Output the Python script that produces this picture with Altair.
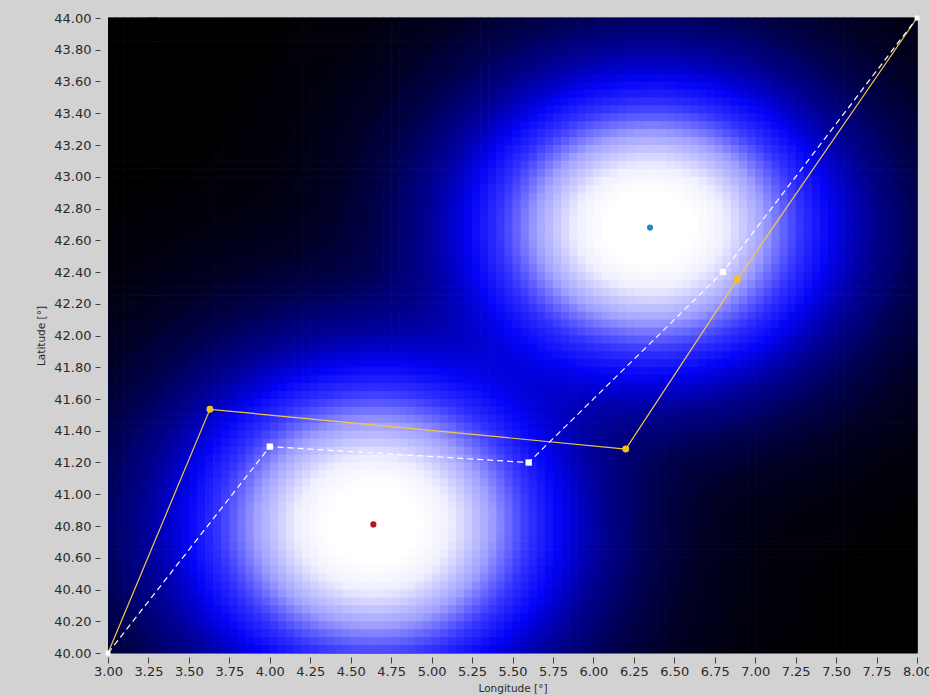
import numpy as np
import pandas as pd
import altair as alt

# --- signal sources (centre lon, centre lat, spread lon, spread lat) ---
src_lon = [4.64, 6.35]
src_lat = [40.81, 42.68]
src_sig_lon = [0.62, 0.60]
src_sig_lat = [0.54, 0.50]
src_color = ["#c0101a", "#2a86c0"]

# --- planned route (solid, gold) ---
route_lon = [3.00, 3.63, 6.20, 6.89, 8.00]
route_lat = [40.00, 41.535, 41.285, 42.355, 44.00]

# --- estimated route (dashed, white) ---
est_lon = [3.00, 4.00, 5.60, 6.80, 8.00]
est_lat = [40.00, 41.30, 41.20, 42.40, 44.00]

# axis ticks
lon_ticks = [3.00, 3.25, 3.50, 3.75, 4.00, 4.25, 4.50, 4.75, 5.00, 5.25, 5.50,
             5.75, 6.00, 6.25, 6.50, 6.75, 7.00, 7.25, 7.50, 7.75, 8.00]
lat_ticks = [40.0, 40.2, 40.4, 40.6, 40.8, 41.0, 41.2, 41.4, 41.6, 41.8, 42.0,
             42.2, 42.4, 42.6, 42.8, 43.0, 43.2, 43.4, 43.6, 43.8, 44.0]

# intensity field on a regular lon/lat grid
step = 0.05
lons = np.arange(3.0, 8.0, step)
lats = np.arange(40.0, 44.0, step)
LO, LA = np.meshgrid(lons + step / 2, lats + step / 2)
field = np.zeros_like(LO)
for cx, cy, sx, sy in zip(src_lon, src_lat, src_sig_lon, src_sig_lat):
    field += np.exp(-((LO - cx) ** 2) / (2 * sx ** 2) - ((LA - cy) ** 2) / (2 * sy ** 2))

grid = pd.DataFrame({
    "lon0": (LO - step / 2).ravel().round(3),
    "lat0": (LA - step / 2).ravel().round(3),
    "val": field.ravel().round(5),
})

xs = alt.Scale(domain=[3, 8], nice=False, zero=False)
ys = alt.Scale(domain=[40, 44], nice=False, zero=False)

x_axis = alt.Axis(values=lon_ticks, format=".2f", title="Longitude [°]", offset=4,
                  tickSize=6, labelPadding=2, titlePadding=5,
                  labelFlush=False, labelOverlap=False)
y_axis = alt.Axis(values=lat_ticks, format=".2f", title="Latitude [°]", offset=8,
                  tickSize=5, labelPadding=4, titlePadding=7,
                  labelFlush=False, labelOverlap=False)

heat = alt.Chart(grid).transform_calculate(
    lon1="datum.lon0 + 0.054", lat1="datum.lat0 + 0.054"
).mark_rect(strokeWidth=0).encode(
    x=alt.X("lon0:Q", scale=xs, axis=x_axis),
    x2="lon1:Q",
    y=alt.Y("lat0:Q", scale=ys, axis=y_axis),
    y2="lat1:Q",
    color=alt.Color("val:Q", legend=None,
                    scale=alt.Scale(domain=[0, 0.0001, 0.0015, 0.01, 0.04, 0.12, 0.18, 0.3, 0.5, 0.75, 0.9, 2.0],
                                    range=["#000000", "#000008", "#000018", "#000038", "#000070",
                                           "#0000c4", "#0404f8", "#3434ff", "#a0a0ff", "#f0f0ff",
                                           "#ffffff", "#ffffff"],
                                    clamp=True, interpolate="rgb")),
)

route = pd.DataFrame({"lon": route_lon, "lat": route_lat, "i": range(len(route_lon))})
est = pd.DataFrame({"lon": est_lon, "lat": est_lat, "i": range(len(est_lon))})
srcs = pd.DataFrame({"lon": src_lon, "lat": src_lat, "c": src_color})

enc = dict(x=alt.X("lon:Q", scale=xs, axis=x_axis), y=alt.Y("lat:Q", scale=ys, axis=y_axis))

route_line = alt.Chart(route).mark_line(color="#f0c850", strokeWidth=1.2).encode(
    order="i:O", **enc)
est_line = alt.Chart(est).mark_line(color="#ffffff", strokeWidth=1.2,
                                    strokeDash=[6, 4]).encode(order="i:O", **enc)

route_pts = alt.Chart(route).transform_filter(
    "datum.i > 0 && datum.i < 4").mark_point(
    shape="circle", filled=True, size=48, color="#f2c21b", opacity=1).encode(**enc)
est_pts = alt.Chart(est).transform_filter(
    "datum.i > 0 && datum.i < 4").mark_point(
    shape="square", filled=True, size=40, color="#ffffff", opacity=1).encode(**enc)
ends = alt.Chart(est).transform_filter(
    "datum.i == 0 || datum.i == 4").mark_point(
    shape="square", filled=True, size=24, color="#ffffff", opacity=1).encode(**enc)

src_pts = alt.Chart(srcs).mark_point(shape="circle", filled=True, size=38, opacity=1).encode(
    color=alt.Color("c:N", scale=None), **enc)

chart = alt.layer(heat, route_line, est_line, route_pts, est_pts, ends, src_pts).properties(
    width=809, height=635,
    padding={"left": 108, "top": 18, "right": 12, "bottom": 43},
    autosize=alt.AutoSizeParams(type="none"),
).configure(background="#d2d2d2").configure_view(
    stroke="#6a6a6a", strokeWidth=1
).configure_axis(
    grid=False, domain=False,
    labelFont="DejaVu Sans", labelFontSize=13, labelColor="#2a2a2a",
    tickColor="#404040", tickWidth=1,
    titleFont="DejaVu Sans", titleFontSize=10.5, titleFontWeight="normal", titleColor="#2a2a2a",
).configure_axisY(labelOverlap=False)

chart.save("out.html", embed_options={"renderer": "svg", "actions": False})
